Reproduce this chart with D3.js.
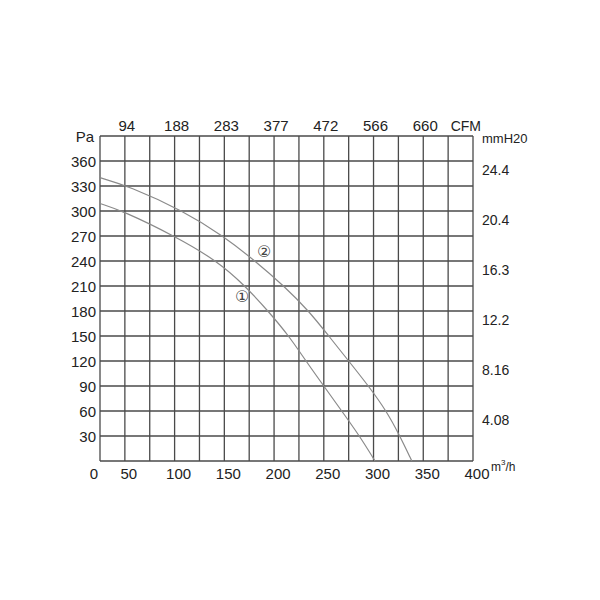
<!DOCTYPE html>
<html>
<head>
<meta charset="utf-8">
<script src="https://cdn.jsdelivr.net/npm/d3@7"></script>
<style>
  html, body { margin: 0; padding: 0; background: #fff; }
  text { font-family: "Liberation Sans", Arial, sans-serif; fill: #222; }
</style>
</head>
<body>
<svg id="chart" width="600" height="600"></svg>
<script>
// ---- data ----
const flowTicks = [50, 100, 150, 200, 250, 300, 350, 400];        // m3/h labels
const flowGrid = d3.range(25, 401, 25);                            // vertical grid lines (m3/h)
const paTicks = [30, 60, 90, 120, 150, 180, 210, 240, 270, 300, 330, 360];
const paGrid = d3.range(0, 391, 30);
const cfmLabels = ["94", "188", "283", "377", "472", "566", "660"];
const mmLabels = ["24.4", "20.4", "16.3", "12.2", "8.16", "4.08"];
const mmAt = [360, 300, 240, 180, 120, 60];

const curve1Flow = [25, 48, 100, 143, 171, 194, 215, 232, 250, 268, 286, 301.5];
const curve1Pa   = [309, 300, 270, 240, 210, 180, 150, 120, 90, 60, 30, 0];
const curve2Flow = [25, 53.5, 109, 149, 181, 210, 235, 255, 275, 295, 313, 326.5, 338.5];
const curve2Pa   = [340, 330, 300, 270, 240, 210, 180, 150, 120, 90, 60, 30, 0];
const curveNames = ["\u2460", "\u2461"];
const curveLabelFlow = [168, 190];
const curveLabelPa = [198, 251];

// ---- layout ----
const svg = d3.select("#chart");
svg.append("rect").attr("width", 600).attr("height", 600).attr("fill", "#fff");

const x = d3.scaleLinear().domain([25, 400]).range([100, 473]);
const y = d3.scaleLinear().domain([0, 390]).range([461, 136]);

const gridColor = "#4a4a4a";

// vertical grid
svg.append("g").selectAll("line").data(flowGrid).join("line")
  .attr("x1", d => x(d)).attr("x2", d => x(d))
  .attr("y1", y(0)).attr("y2", y(390))
  .attr("stroke", gridColor).attr("stroke-width", 1.3);

// horizontal grid
svg.append("g").selectAll("line").data(paGrid).join("line")
  .attr("x1", x(25)).attr("x2", x(400))
  .attr("y1", d => y(d)).attr("y2", d => y(d))
  .attr("stroke", gridColor).attr("stroke-width", 1.3);

// left axis labels
svg.append("g").selectAll("text").data(paTicks).join("text")
  .attr("x", 96).attr("y", d => y(d)).attr("dy", "0.38em")
  .attr("text-anchor", "end").attr("font-size", 15)
  .text(d => d);
svg.append("text").attr("x", 94).attr("y", 142).attr("text-anchor", "end")
  .attr("font-size", 15).text("Pa");

// bottom axis labels
svg.append("text").attr("x", 94).attr("y", 479).attr("text-anchor", "middle")
  .attr("font-size", 15).text("0");
svg.append("g").selectAll("text").data(flowTicks).join("text")
  .attr("x", d => x(d) + 4).attr("y", 479)
  .attr("text-anchor", "middle").attr("font-size", 15)
  .text(d => d);
const unit = svg.append("text").attr("x", 491).attr("y", 471).attr("font-size", 12);
unit.append("tspan").text("m");
unit.append("tspan").attr("dy", -6).attr("font-size", 8).text("3");
unit.append("tspan").attr("dy", 6).text("/h");

// top axis labels (CFM)
svg.append("g").selectAll("text").data(cfmLabels).join("text")
  .attr("x", (d, i) => x(flowTicks[i]) + 2).attr("y", 131)
  .attr("text-anchor", "middle").attr("font-size", 15)
  .text(d => d);
svg.append("text").attr("x", 481).attr("y", 131).attr("text-anchor", "end")
  .attr("font-size", 14).text("CFM");

// right axis labels (mmH20)
svg.append("text").attr("x", 482).attr("y", 143).attr("font-size", 13).text("mmH20");
svg.append("g").selectAll("text").data(mmLabels).join("text")
  .attr("x", 482).attr("y", (d, i) => y(mmAt[i]) + 14)
  .attr("font-size", 14)
  .text(d => d);

// curves
const line = d3.line().x(d => x(d[0])).y(d => y(d[1])).curve(d3.curveBasis);
const curves = [d3.zip(curve1Flow, curve1Pa), d3.zip(curve2Flow, curve2Pa)];
svg.append("g").selectAll("path").data(curves).join("path")
  .attr("d", line).attr("fill", "none")
  .attr("stroke", "#8a8a8a").attr("stroke-width", 1.2);

// curve labels
svg.append("g").selectAll("text").data(curveNames).join("text")
  .attr("x", (d, i) => x(curveLabelFlow[i])).attr("y", (d, i) => y(curveLabelPa[i]))
  .attr("dy", "0.35em").attr("text-anchor", "middle")
  .attr("font-size", 16).style("font-family", "'DejaVu Sans', sans-serif")
  .style("fill", "#444")
  .text(d => d);
</script>
</body>
</html>
